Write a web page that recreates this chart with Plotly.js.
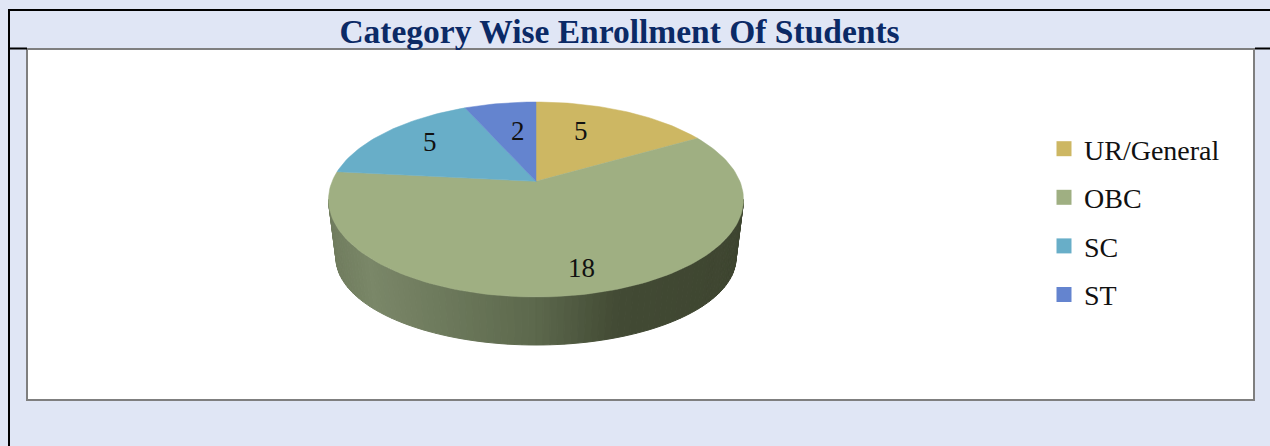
<!DOCTYPE html>
<html><head><meta charset="utf-8">
<script src="https://cdn.plot.ly/plotly-3.0.1.min.js"></script>
<style>html,body{margin:0;padding:0;background:#E0E6F5}#c{width:1270px;height:446px}</style>
</head><body><div id="c"></div>
<script>
const categories = ["UR/General", "OBC", "SC", "ST"];
const values = [5, 18, 5, 2];
const sliceColors = ["#CDB763", "#9FAF82", "#68AEC8", "#6484CF"];

// pie geometry (axis units equal pixels)
const cx = 536, cy = 199.5, rx = 207.5, ry = 97.5, tilt = 0.186;
const botCy = 258, botRx = 200, botRy = 87;
const labelX = [581, 581, 430, 518], labelY = [131, 268, 142, 131];
const sideStops = [[0,[112,124,94]],[0.1,[122,135,104]],[0.5,[92,104,76]],[0.7,[66,74,52]],[1,[62,69,48]]];

function proj(t){ // perspective view of a point on the rim, t clockwise from top
  const u = Math.sin(t), v = Math.cos(t), d = 1 + tilt * v;
  return [cx + rx * u * Math.sqrt(1 - tilt * tilt) / d, cy - ry * (v + tilt) / d];
}
const apex = [cx, cy - ry * tilt];
const total = values.reduce((a, b) => a + b, 0);
const traces = [];

// side wall
function sideColor(f){
  for (let i = 1; i < sideStops.length; i++) {
    if (f <= sideStops[i][0]) {
      const a = sideStops[i-1], b = sideStops[i], k = (f - a[0]) / (b[0] - a[0]);
      return "rgb(" + a[1].map((c, j) => Math.round(c + (b[1][j] - c) * k)).join(",") + ")";
    }
  }
  return "rgb(62,69,48)";
}
const N = 90;
for (let i = 0; i < N; i++) {
  const a0 = Math.PI * (1 - i / N), a1 = Math.PI * (1 - (i + 1) / N);
  const col = sideColor((1 + Math.cos((a0 + a1) / 2)) / 2);
  traces.push({
    x: [cx + rx * Math.cos(a0), cx + rx * Math.cos(a1), cx + botRx * Math.cos(a1), cx + botRx * Math.cos(a0), cx + rx * Math.cos(a0)],
    y: [cy + ry * Math.sin(a0), cy + ry * Math.sin(a1), botCy + botRy * Math.sin(a1), botCy + botRy * Math.sin(a0), cy + ry * Math.sin(a0)],
    mode: "lines", fill: "toself", fillcolor: col, line: {color: col, width: 1},
    hoverinfo: "skip", showlegend: false
  });
}

// top slices
let acc = 0;
values.forEach((val, i) => {
  const a = acc / total * 2 * Math.PI, b = (acc + val) / total * 2 * Math.PI;
  const xs = [apex[0]], ys = [apex[1]];
  const steps = Math.max(8, Math.ceil(val * 8));
  for (let s = 0; s <= steps; s++) {
    const p = proj(a + (b - a) * s / steps);
    xs.push(p[0]); ys.push(p[1]);
  }
  xs.push(apex[0]); ys.push(apex[1]);
  traces.push({
    x: xs, y: ys, mode: "lines", fill: "toself", fillcolor: sliceColors[i],
    line: {color: sliceColors[i], width: 0.5}, name: categories[i],
    text: categories[i] + ": " + val, hoverinfo: "text", showlegend: false
  });
  acc += val;
});

// legend entries
categories.forEach((c, i) => traces.push({
  x: [null], y: [null], mode: "markers", name: c, legendgroup: c,
  marker: {symbol: "square", size: 15, color: sliceColors[i]}, showlegend: true, hoverinfo: "skip"
}));

const fontFam = '"Liberation Serif", serif';
const layout = {
  width: 1270, height: 446, margin: {l: 0, r: 0, t: 0, b: 0},
  paper_bgcolor: "#E0E6F5", plot_bgcolor: "rgba(0,0,0,0)",
  title: {text: "<b>Category Wise Enrollment Of Students</b>", x: 619.5 / 1270, xanchor: "center",
          y: 1 - 31 / 446, yanchor: "middle", font: {family: fontFam, size: 33.5, color: "#0B2A66"}},
  xaxis: {range: [0, 1270], visible: false, fixedrange: true},
  yaxis: {range: [446, 0], visible: false, fixedrange: true},
  showlegend: true,
  legend: {x: 1044 / 1270, y: 1 - 124 / 446, xanchor: "left", yanchor: "top", bgcolor: "rgba(0,0,0,0)",
           traceorder: "grouped", tracegroupgap: 9.2, font: {family: fontFam, size: 28, color: "#111"}},
  shapes: [
    {type: "rect", xref: "x", yref: "y", x0: 27, x1: 1254, y0: 49, y1: 400, fillcolor: "#fff",
     line: {color: "#7f7f7f", width: 2}, layer: "below"},
    {type: "line", xref: "x", yref: "y", x0: 8, x1: 1270, y0: 10, y1: 10, line: {color: "#000", width: 2}, layer: "below"},
    {type: "line", xref: "x", yref: "y", x0: 9, x1: 9, y0: 10, y1: 446, line: {color: "#000", width: 2}, layer: "below"},
    {type: "line", xref: "x", yref: "y", x0: 9, x1: 27, y0: 48.5, y1: 48.5, line: {color: "#000", width: 2}, layer: "below"},
    {type: "line", xref: "x", yref: "y", x0: 1255, x1: 1270, y0: 48.5, y1: 48.5, line: {color: "#000", width: 2}, layer: "below"}
  ],
  annotations: values.map((v, i) => ({
    x: labelX[i], y: labelY[i], xref: "x", yref: "y", text: String(v), showarrow: false,
    xanchor: "center", yanchor: "middle", font: {family: fontFam, size: 27, color: "#111"}
  }))
};
Plotly.newPlot("c", traces, layout, {displayModeBar: false, responsive: false});
</script></body></html>
